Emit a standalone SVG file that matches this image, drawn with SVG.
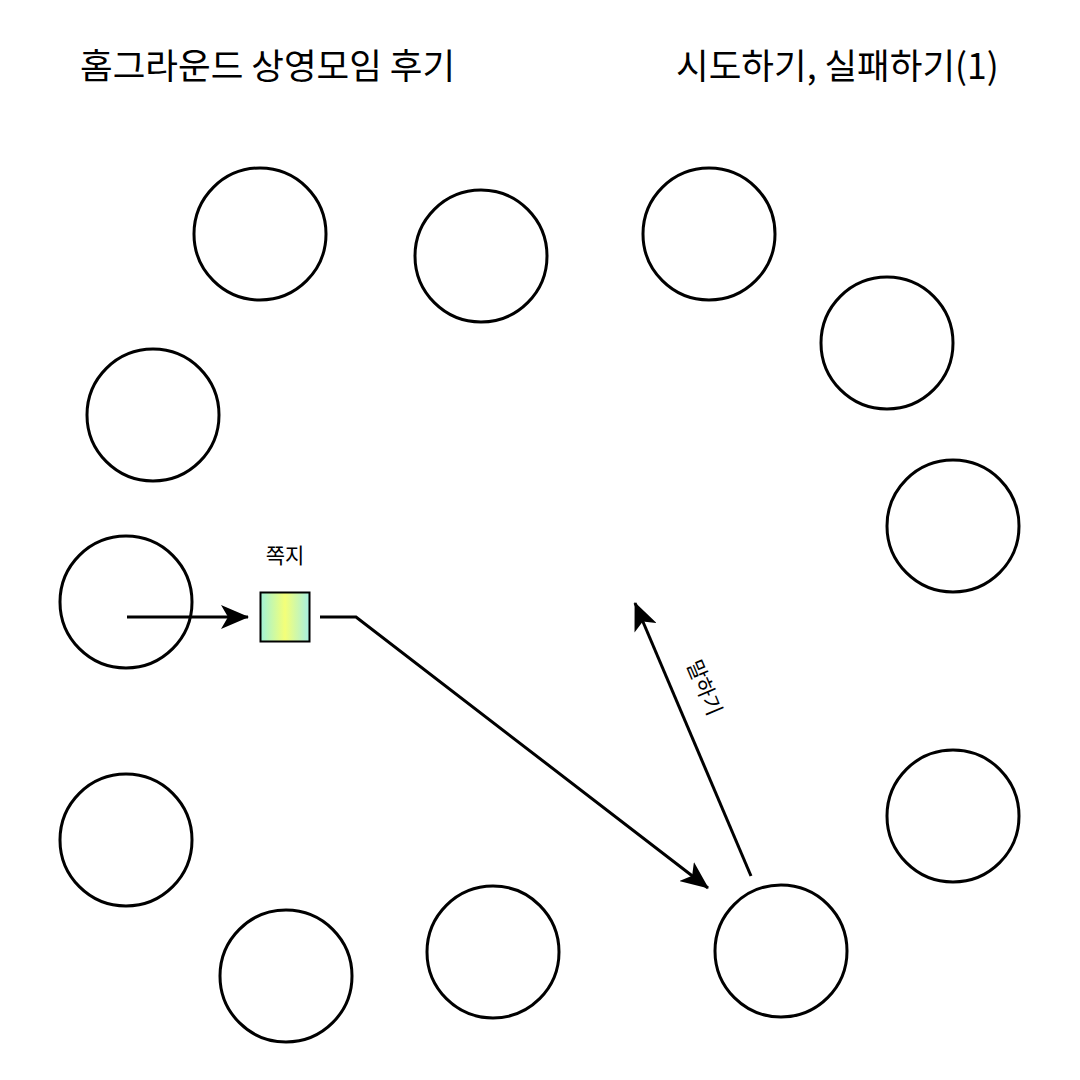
<svg xmlns="http://www.w3.org/2000/svg" width="1080" height="1080" viewBox="0 0 1080 1080">
<style>
.node{fill:#fff;stroke:#000;stroke-width:3}
.t{font-family:"Noto Sans CJK KR","Noto Sans",sans-serif;fill:#000}
.title{font-size:35.5px;font-weight:400}
.lbl{font-size:21px}
.conn{fill:none;stroke:#000;stroke-width:3}
</style>
<defs>
<linearGradient id="g" x1="0" y1="0" x2="1" y2="0">
<stop offset="0" stop-color="#9ff2d8"/>
<stop offset="0.5" stop-color="#f4ff78"/>
<stop offset="1" stop-color="#a6f0e2"/>
</linearGradient>
<marker id="arr2" viewBox="0 0 28 24" refX="27" refY="12" markerWidth="28" markerHeight="24" markerUnits="userSpaceOnUse" orient="auto">
<path d="M0,0 L28,12 L0,24 L7,12 Z" fill="#000"/>
</marker>
</defs>
<rect width="1080" height="1080" fill="#fff"/>
<text class="t title" x="80" y="79">홈그라운드 상영모임 후기</text>
<text class="t title" x="676" y="79">시도하기, 실패하기(1)</text>
<g id="n1"><circle class="node" cx="260" cy="234" r="66"/></g>
<g id="n2"><circle class="node" cx="481" cy="256" r="66"/></g>
<g id="n3"><circle class="node" cx="709" cy="234" r="66"/></g>
<g id="n4"><circle class="node" cx="887" cy="343" r="66"/></g>
<g id="n5"><circle class="node" cx="953" cy="526" r="66"/></g>
<g id="n6"><circle class="node" cx="153" cy="415" r="66"/></g>
<g id="n7"><circle class="node" cx="126" cy="602" r="66"/></g>
<g id="n8"><circle class="node" cx="953" cy="816" r="66"/></g>
<g id="n9"><circle class="node" cx="126" cy="840" r="66"/></g>
<g id="n10"><circle class="node" cx="286" cy="976" r="66"/></g>
<g id="n11"><circle class="node" cx="493" cy="952" r="66"/></g>
<g id="n12"><circle class="node" cx="781" cy="951" r="66"/></g>
<g id="note">
<rect x="260.5" y="592.5" width="49" height="49" fill="url(#g)" stroke="#000" stroke-width="2"/>
<text class="t lbl" x="285" y="563" text-anchor="middle">쪽지</text>
</g>
<g id="connectors">
<path class="conn" d="M127,617 L248,617" marker-end="url(#arr2)"/>
<path class="conn" d="M320,617 L356,617 L708,888" marker-end="url(#arr2)"/>
<path class="conn" d="M751,876 L635,603" marker-end="url(#arr2)"/>
<text class="t lbl" transform="translate(704,688) rotate(67)" text-anchor="middle" y="7">말하기</text>
</g>
</svg>
